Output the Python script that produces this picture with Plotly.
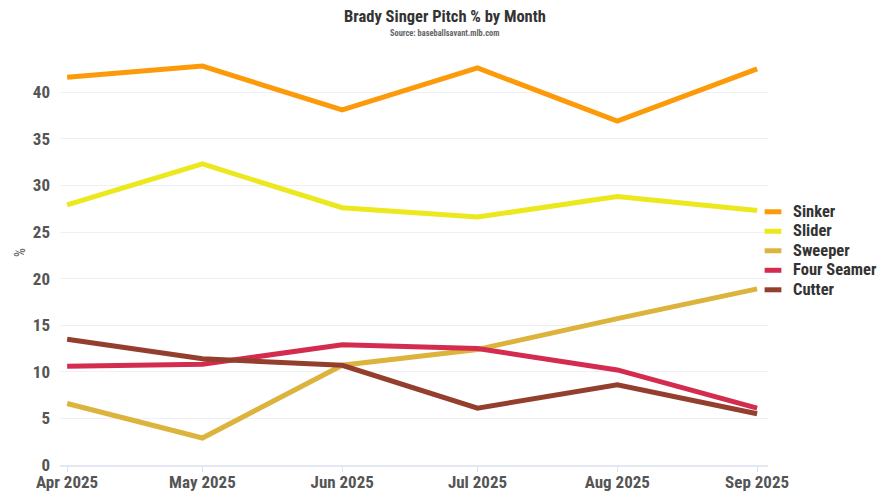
import plotly.graph_objects as go

months = ["2025-04-01", "2025-05-01", "2025-06-01", "2025-07-01", "2025-08-01", "2025-09-01"]
tick_labels = ["Apr 2025", "May 2025", "Jun 2025", "Jul 2025", "Aug 2025", "Sep 2025"]

sinker = [41.6, 42.8, 38.1, 42.6, 36.9, 42.5]
slider = [27.9, 32.3, 27.6, 26.6, 28.8, 27.3]
sweeper = [6.6, 2.9, 10.7, 12.4, 15.7, 18.9]
four_seamer = [10.6, 10.8, 12.9, 12.5, 10.2, 6.1]
cutter = [13.5, 11.4, 10.7, 6.1, 8.6, 5.5]

series = [
    ("Sinker", sinker, "#fd9a0a"),
    ("Slider", slider, "#ebe81e"),
    ("Sweeper", sweeper, "#dcb33c"),
    ("Four Seamer", four_seamer, "#d42c4f"),
    ("Cutter", cutter, "#943f2d"),
]

FONT = "Roboto Condensed, Liberation Sans Narrow, Roboto, sans-serif"

fig = go.Figure()
for name, vals, color in series:
    fig.add_trace(go.Scatter(x=months, y=vals, mode="lines", name=name,
                             showlegend=False,
                             line=dict(color=color, width=5)))
# legend entries with short bar symbols
for name, vals, color in series:
    fig.add_trace(go.Scatter(
        x=[None], y=[None], mode="markers",
        name="<span style='font-size:16.5px'><b>%s</b></span>" % name,
        marker=dict(symbol="line-ew", size=12, line=dict(color=color, width=5))))

# figure is drawn with an 8px page offset; these are in-figure pixels
L, R, T, B = 52, 129, 32, 43
W, H = 889, 500
PW, PH = W - L - R, H - T - B


def px(xp):
    return (xp - L) / PW


def py(yp):
    return 1 - (yp - T) / PH


fig.update_layout(
    width=W, height=H,
    paper_bgcolor="white", plot_bgcolor="white",
    margin=dict(l=L, r=R, t=T, b=B, autoexpand=False),
    font=dict(family=FONT, color="#555555"),
    showlegend=True,
    legend=dict(x=px(745), xanchor="left", y=py(243), yanchor="middle",
                font=dict(size=12.7, color="#333333", family=FONT),
                itemwidth=30, tracegroupgap=0, bgcolor="rgba(0,0,0,0)"),
    xaxis=dict(
        type="date", automargin=False,
        range=["2025-03-30 10:00", "2025-09-03 10:00"],
        tickvals=months, ticktext=["<b>%s</b>" % t for t in tick_labels],
        ticks="outside", ticklen=5, tickcolor="#dde3ee",
        ticklabelstandoff=-4,
        showline=True, linecolor="#e3e8f3", linewidth=2,
        showgrid=False, zeroline=False,
        tickfont=dict(size=17, color="#555555", family=FONT),
    ),
    yaxis=dict(
        automargin=False,
        range=[0, 45.6],
        tickvals=[0, 5, 10, 15, 20, 25, 30, 35, 40],
        ticktext=["<b>%d</b>" % v for v in [0, 5, 10, 15, 20, 25, 30, 35, 40]],
        showgrid=True, gridcolor="#eef0f4", gridwidth=1,
        zeroline=False, showline=False,
        ticklabelstandoff=9,
        tickfont=dict(size=17, color="#555555", family=FONT),
    ),
    annotations=[
        dict(text="<b>Brady Singer Pitch % by Month</b>", xref="paper", yref="paper",
             x=px(436.5), y=py(8), xanchor="center", yanchor="middle", showarrow=False,
             font=dict(size=16.5, color="#333333", family=FONT)),
        dict(text="<b>Source: baseballsavant.mlb.com</b>", xref="paper", yref="paper",
             x=px(436.5), y=py(25), xanchor="center", yanchor="middle", showarrow=False,
             font=dict(size=8.4, color="#666666", family=FONT)),
        dict(text="%", xref="paper", yref="paper",
             x=px(12), y=py(245), xanchor="center", yanchor="middle", showarrow=False,
             textangle=-90, font=dict(size=14, color="#555555", family=FONT)),
    ],
)

fig.write_html("out.html")
